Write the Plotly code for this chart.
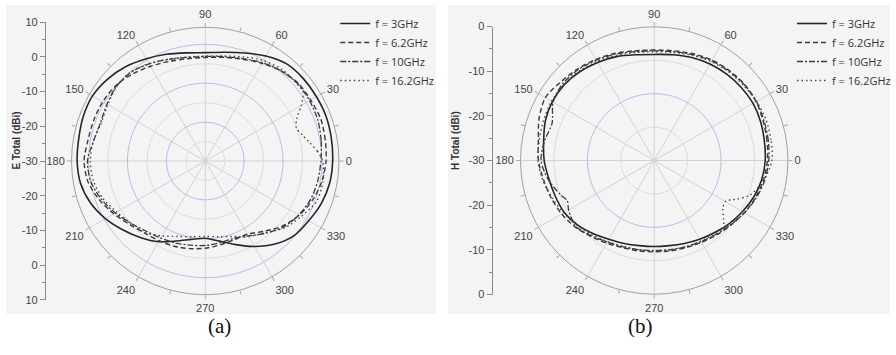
import plotly.graph_objects as go

W, H = 896, 355

# ---------------- data ----------------
series_names = ["f = 3GHz", "f = 6.2GHz", "f = 10GHz", "f = 16.2GHz"]
angle_major = list(range(0, 360, 30))
angle_minor = list(range(15, 360, 30))

theta_10 = list(range(0, 360, 10))

# (a) E Total (dBi)
e_3ghz = [6.8, 7.0, 7.2, 7.1, 7.0, 6.6, 5.0, 3.2, 1.9, 1.3, 1.7, 2.8, 4.1, 5.6, 6.8, 7.6, 7.5, 7.1,
          7.0, 6.6, 5.3, 3.3, 1.0, -1.1, -3.1, -5.4, -7.0, -7.7, -6.5, -4.3, -1.5, 1.3, 3.5, 4.5, 5.7, 6.5]
e_6ghz = [4.9, 5.2, 5.5, 5.2, 5.0, 4.0, 2.6, 1.3, 0.4, -0.1, 0.0, 0.6, 1.6, 2.8, 3.8, 4.2, 4.3, 4.4,
          5.0, 4.4, 2.6, 0.5, -1.5, -2.8, -3.4, -3.8, -4.3, -4.8, -5.4, -5.8, -5.6, -3.5, -0.8, 1.3, 3.0, 4.2]
e_10ghz = [3.4, 4.0, 4.6, 4.8, 4.8, 4.0, 2.8, 1.5, 0.6, 0.2, 0.4, 1.2, 2.4, 3.4, 3.5, 2.8, 2.2, 2.8,
           4.0, 3.6, 2.0, 0.0, -2.0, -3.5, -4.3, -4.8, -5.3, -5.6, -6.0, -6.2, -5.0, -2.8, -0.4, 1.2, 2.4, 3.0]
e_16ghz_theta = [0, 5, 10, 15, 20, 25, 30, 35, 40, 50, 60, 70, 80, 90, 100, 110, 120, 130, 140, 150, 160,
                 170, 180, 190, 200, 210, 220, 230, 240, 250, 260, 270, 280, 290, 300, 310, 320, 330, 340, 350]
e_16ghz = [3.9, 2.5, 0.6, -1.0, -2.0, -0.8, 2.0, 4.5, 4.6, 4.5, 3.5, 2.0, 0.8, 0.3, 0.5, 1.3, 2.5, 3.5, 3.4,
           2.5, 2.0, 2.8, 3.2, 2.8, 1.5, -0.5, -2.0, -3.0, -5.0, -6.8, -7.8, -8.2, -7.8, -6.8, -4.8, -3.0,
           0.0, 2.0, 4.2, 4.5]

# (b) H Total (dBi)
h_3ghz = [-5.1, -4.9, -4.6, -4.4, -4.5, -4.7, -5.0, -5.4, -5.9, -6.2, -5.9, -5.2, -4.6, -4.0, -3.6, -3.6,
          -4.0, -4.8, -5.3, -6.0, -6.4, -6.7, -7.5, -8.6, -9.6, -10.2, -10.6, -10.7, -10.6, -10.2, -9.6,
          -8.9, -8.0, -7.1, -6.2, -5.5]
h_6ghz = [-4.6, -4.3, -4.0, -3.6, -3.5, -3.7, -4.0, -4.5, -5.0, -5.2, -5.0, -4.4, -3.8, -3.2, -2.6, -1.8,
          -2.5, -3.6, -4.0, -4.8, -5.4, -6.0, -6.8, -7.8, -8.6, -9.2, -9.4, -9.5, -9.4, -9.2, -8.8, -8.2,
          -7.5, -6.6, -5.8, -5.1]
h_10ghz_theta = [0, 10, 20, 30, 40, 50, 60, 70, 80, 90, 100, 110, 120, 130, 140, 150, 160, 170, 180, 190,
                 200, 205, 210, 220, 230, 240, 250, 260, 270, 280, 290, 300, 310, 320, 330, 340, 350]
h_10ghz = [-4.3, -4.0, -3.8, -3.5, -3.6, -3.9, -4.2, -4.7, -5.2, -5.4, -5.2, -4.6, -4.0, -3.4, -3.2, -3.8,
           -5.6, -5.0, -4.6, -5.8, -7.6, -8.5, -7.8, -7.0, -8.0, -8.9, -9.4, -9.7, -9.8, -9.7, -9.4, -9.0,
           -8.4, -7.6, -6.6, -5.6, -4.8]
h_16ghz_theta = [0, 10, 20, 30, 40, 50, 60, 70, 80, 90, 100, 110, 120, 130, 140, 150, 160, 170, 180, 190,
                 200, 210, 220, 230, 240, 250, 260, 270, 280, 290, 300, 310, 315, 320, 325, 330, 335, 340, 350]
h_16ghz = [-3.6, -3.4, -3.3, -3.5, -3.8, -4.0, -4.4, -4.9, -5.4, -5.6, -5.4, -4.9, -4.3, -3.8, -3.6, -3.4,
           -3.6, -3.8, -3.9, -4.6, -5.6, -6.5, -7.4, -8.3, -9.0, -9.5, -9.7, -9.7, -9.6, -9.4, -9.1, -8.6,
           -8.2, -9.7, -11.2, -11.6, -9.5, -7.2, -5.0]

# radial scale labels (linear scale drawn through the centre)
scale_a_pos = [-40, -30, -20, -10, 0, 10, 20, 30, 40]
scale_a_text = ["10", "0", "-10", "-20", "-30", "-20", "-10", "0", "10"]
scale_b_pos = [-30, -20, -10, 0, 10, 20, 30]
scale_b_text = ["0", "-10", "-20", "-30", "-20", "-10", "0"]

# ---------------- styling ----------------
styles = [
    dict(color="#262626", width=1.6, dash="solid"),
    dict(color="#3a3a3a", width=1.4, dash="5px,3px"),
    dict(color="#3a3a3a", width=1.3, dash="6px,2px,2px,2px"),
    dict(color="#474747", width=1.4, dash="1.5px,3px"),
]


def close(th, r):
    return list(th) + [th[0] + 360], list(r) + [r[0]]


def px_dom_x(c, rad):
    return [(c - rad) / W, (c + rad) / W]


def px_dom_y(c, rad):
    return [1 - (c + rad) / H, 1 - (c - rad) / H]


R = 134
ca = (205.7, 161.0)
cb = (655.7, 160.5)
range_a = [-30, -30 + R / 3.47]
range_b = [-30, 0]

fig = go.Figure()

# empty traces so that the under-layer polar subplots get drawn
fig.add_trace(go.Scatterpolar(r=[], theta=[], subplot="polar", showlegend=False))
fig.add_trace(go.Scatterpolar(r=[], theta=[], subplot="polar3", showlegend=False))

panel_a = [(theta_10, e_3ghz), (theta_10, e_6ghz), (theta_10, e_10ghz), (e_16ghz_theta, e_16ghz)]
panel_b = [(theta_10, h_3ghz), (theta_10, h_6ghz), (h_10ghz_theta, h_10ghz), (h_16ghz_theta, h_16ghz)]

for i, (th, r) in enumerate(panel_a):
    t2, r2 = close(th, r)
    fig.add_trace(go.Scatterpolar(theta=t2, r=r2, mode="lines", name=series_names[i],
                                  line=dict(shape="spline", smoothing=0.8, **styles[i]),
                                  subplot="polar2", legend="legend"))
for i, (th, r) in enumerate(panel_b):
    t2, r2 = close(th, r)
    fig.add_trace(go.Scatterpolar(theta=t2, r=r2, mode="lines", name=series_names[i],
                                  line=dict(shape="spline", smoothing=0.8, **styles[i]),
                                  subplot="polar4", legend="legend2"))

# empty traces to create the vertical dB scales
fig.add_trace(go.Scatter(x=[], y=[], xaxis="x", yaxis="y", showlegend=False))
fig.add_trace(go.Scatter(x=[], y=[], xaxis="x", yaxis="y2", showlegend=False))

tickfont = dict(family="Liberation Sans, Arial, sans-serif", size=11, color="#444444")


def under_polar(cx, cy, rng, gray_vals):
    return dict(
        domain=dict(x=px_dom_x(cx, R), y=px_dom_y(cy, R)),
        bgcolor="rgba(0,0,0,0)",
        radialaxis=dict(range=rng, tickvals=gray_vals, showticklabels=False, ticks="",
                        showline=False, gridcolor="#dcdcdc", gridwidth=1),
        angularaxis=dict(rotation=0, direction="counterclockwise", tickmode="array",
                         tickvals=angle_major, ticktext=[str(a) for a in angle_major],
                         ticks="outside", ticklen=4, tickcolor="#a8a8a8", color="#444444",
                         showgrid=True, gridcolor="#d2d2d2", gridwidth=1,
                         showline=True, linecolor="#a0a0a0", linewidth=1,
                         tickfont=tickfont),
    )


def top_polar(cx, cy, rng, blue_vals):
    return dict(
        domain=dict(x=px_dom_x(cx, R), y=px_dom_y(cy, R)),
        bgcolor="rgba(0,0,0,0)",
        radialaxis=dict(range=rng, tickvals=blue_vals, showticklabels=False, ticks="",
                        showline=False, gridcolor="#b9bde9", gridwidth=1),
        angularaxis=dict(rotation=0, direction="counterclockwise", tickmode="array",
                         tickvals=angle_minor, showticklabels=False, ticks="outside", ticklen=4,
                         tickcolor="#a8a8a8", showline=False, showgrid=False),
    )


gray_a = [-30 + p / 3.47 for p in (19.5, 58.5, 97.5)]
blue_a = [-30 + p / 3.47 for p in (39, 78, 117)]
gray_b = [-22.5, -7.5]
blue_b = [-15]


def scale_axis(top_px, bot_px, xpx, rng, pos, txt):
    return dict(
        domain=[1 - bot_px / H, 1 - top_px / H], range=rng, anchor="free", position=xpx / W,
        tickmode="array", tickvals=pos, ticktext=txt, ticks="outside", ticklen=5,
        tickcolor="#8a8a8a", showline=True, linecolor="#8a8a8a", linewidth=1,
        showgrid=False, zeroline=False, tickfont=tickfont,
        minor=dict(tickvals=[p + (pos[1] - pos[0]) / 2 for p in pos[:-1]], ticks="outside",
                   ticklen=3, tickcolor="#8a8a8a"),
    )


legend_common = dict(bgcolor="rgba(0,0,0,0)", borderwidth=0, yanchor="top", xanchor="left",
                     font=dict(family="Open Sans, sans-serif", size=11, color="#333"),
                     tracegroupgap=0, itemwidth=30)

fig.update_layout(
    template="none",
    width=W, height=H,
    margin=dict(l=0, r=0, t=0, b=0),
    font=dict(family="Liberation Sans, Arial, sans-serif", color="#444444"),
    paper_bgcolor="white",
    plot_bgcolor="rgba(0,0,0,0)",
    polar=under_polar(*ca, range_a, gray_a),
    polar2=top_polar(*ca, range_a, blue_a),
    polar3=under_polar(*cb, range_b, gray_b),
    polar4=top_polar(*cb, range_b, blue_b),
    xaxis=dict(visible=False, domain=[0, 1], range=[0, 1]),
    yaxis=scale_axis(ca[1] - 40 * 3.47, ca[1] + 40 * 3.47, 45, [-40, 40], scale_a_pos, scale_a_text),
    yaxis2=scale_axis(cb[1] - R, cb[1] + R, 492.7, [-30, 30], scale_b_pos, scale_b_text),
    legend=dict(x=336 / W, y=1 - 9 / H, **legend_common),
    legend2=dict(x=794 / W, y=1 - 9 / H, **legend_common),
    showlegend=True,
    shapes=[
        dict(type="rect", xref="paper", yref="paper", x0=6 / W, x1=437 / W, y0=1 - 314 / H, y1=1 - 5 / H,
             fillcolor="#f4f4f4", line=dict(width=0), layer="below"),
        dict(type="rect", xref="paper", yref="paper", x0=449 / W, x1=892 / W, y0=1 - 314 / H, y1=1 - 5 / H,
             fillcolor="#f4f4f4", line=dict(width=0), layer="below"),
    ],
    annotations=[
        dict(text="<b>E Total (dBi)</b>", x=10 / W, y=1 - 140 / H, xref="paper", yref="paper",
             showarrow=False, textangle=-90, font=dict(family="Liberation Sans, Arial", size=10, color="#333")),
        dict(text="<b>H Total (dBi)</b>", x=457 / W, y=1 - 140 / H, xref="paper", yref="paper",
             showarrow=False, textangle=-90, font=dict(family="Liberation Sans, Arial", size=10, color="#333")),
        dict(text="(a)", x=206 / W, y=1 - 340 / H, xref="paper", yref="paper", showarrow=False,
             font=dict(family="Liberation Serif, Times New Roman", size=21, color="#111")),
        dict(text="(b)", x=656 / W, y=1 - 340 / H, xref="paper", yref="paper", showarrow=False,
             font=dict(family="Liberation Serif, Times New Roman", size=21, color="#111")),
    ],
)

fig.write_html("out.html")
